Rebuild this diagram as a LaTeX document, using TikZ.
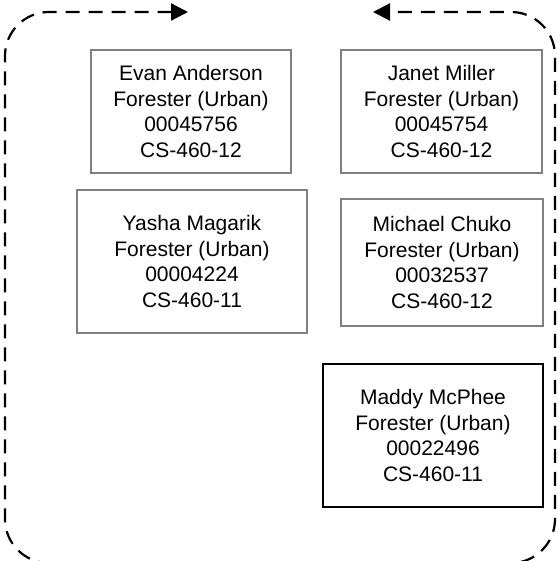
\documentclass[tikz,border=0pt]{standalone}
\usepackage{fontspec}
\setmainfont{Liberation Sans}
\usetikzlibrary{arrows.meta, positioning}

\begin{document}
\begin{tikzpicture}[
    x=1pt, y=-1pt,
    person/.style={
        rectangle, draw=gray, line width=1.2pt,
        align=center, inner sep=0pt,
        font=\fontsize{21}{25.5}\selectfont
    },
    lead/.style={person, draw=black, line width=2pt},
    loop/.style={
        line width=2.2pt, dash pattern=on 14pt off 9pt,
        rounded corners=44pt,
        {Triangle[length=17pt, width=17pt]}-{Triangle[length=17pt, width=17pt]}
    },
]
\useasboundingbox (0,0) rectangle (557,561);
\clip (0,0) rectangle (557,561);

%% Top row
\node[person, minimum width=200pt, minimum height=123pt] (evan) at (191,111.5)
    {Evan Anderson\\Forester (Urban)\\00045756\\CS-460-12};
\node[person, minimum width=201pt, minimum height=123pt] (janet) at (441.5,111.5)
    {Janet Miller\\Forester (Urban)\\00045754\\CS-460-12};

%% Middle row
\node[person, minimum width=230pt, minimum height=143pt] (yasha) at (192,261.5)
    {Yasha Magarik\\Forester (Urban)\\00004224\\CS-460-11};
\node[person, minimum width=202pt, minimum height=127pt] (michael) at (442,262.5)
    {Michael Chuko\\Forester (Urban)\\00032537\\CS-460-12};

%% Bottom row
\node[lead, minimum width=220pt, minimum height=143pt] (maddy) at (433,435.5)
    {Maddy McPhee\\Forester (Urban)\\00022496\\CS-460-11};

%% Dashed loop round the team
\coordinate (tipL) at (188,12);
\coordinate (tipR) at (373,12);
\draw[loop] (tipL) -- (5,12) -- (5,563) -- (555,563) -- (555,12) -- (tipR);

\end{tikzpicture}
\end{document}
